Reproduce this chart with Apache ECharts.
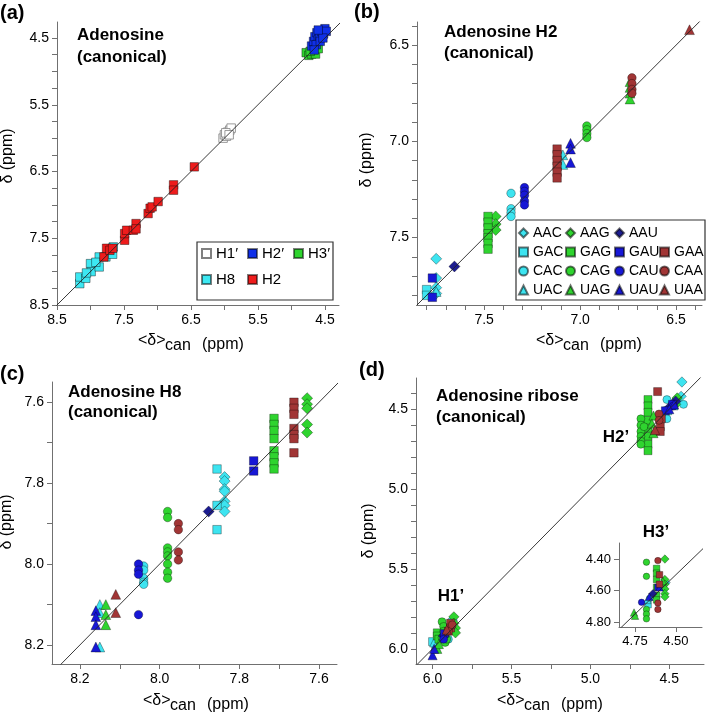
<!DOCTYPE html>
<html>
<head>
<meta charset="utf-8">
<script src="https://cdn.jsdelivr.net/npm/echarts@6/dist/echarts.min.js"></script>
<style>
html, body { margin: 0; padding: 0; background: #fff; }
#chart { width: 708px; height: 714px; }
</style>
</head>
<body>
<div id="chart"></div>
<script>
const FONT = 'Liberation Sans, Arial, sans-serif'

// ---- (a) all adenosine protons: [<δ>can, δ] ----
const aH3p = [[4.78, 4.72], [4.74, 4.76], [4.70, 4.74], [4.66, 4.70], [4.64, 4.74], [4.60, 4.66], [4.72, 4.70]]
const aH2p = [[4.70, 4.62], [4.67, 4.55], [4.65, 4.48], [4.62, 4.42], [4.60, 4.52], [4.58, 4.46], [4.55, 4.40],
  [4.52, 4.44], [4.50, 4.36], [4.48, 4.40], [4.63, 4.60], [4.57, 4.55], [4.53, 4.50], [4.60, 4.38], [4.66, 4.68]]
const aH1p = [[6.02, 6.00], [6.00, 5.95], [5.97, 5.97], [5.95, 5.91], [5.92, 5.88], [5.90, 5.85], [5.98, 5.92], [5.93, 5.95]]
const aH8 = [[8.16, 8.18], [8.16, 8.08], [8.07, 8.10], [8.00, 7.88], [7.99, 8.00], [7.87, 7.93], [7.87, 7.78],
  [7.77, 7.78], [7.66, 7.63], [7.67, 7.74], [8.06, 8.02], [7.92, 7.86]]
const aH2 = [[7.80, 7.78], [7.76, 7.65], [7.71, 7.68], [7.67, 7.65], [7.49, 7.53], [7.49, 7.43], [7.46, 7.38],
  [7.36, 7.38], [7.32, 7.28], [7.32, 7.36], [7.14, 7.13], [7.11, 7.05], [7.08, 7.03], [6.99, 6.95],
  [6.76, 6.70], [6.76, 6.78], [6.45, 6.43]]

// ---- per-triplet panels: [triplet, <δ>can, [δ ...]] ----
const h2Rows = [
  ['AAC', 7.75, [7.61, 7.71, 7.76, 7.79]], ['GAC', 7.80, [7.77, 7.80]],
  ['CAC', 7.36, [7.27, 7.35, 7.37, 7.39]], ['UAC', 7.09, [7.07, 7.12]], ['UAC', 7.75, [7.78]],
  ['AAG', 7.44, [7.39, 7.43, 7.46]], ['GAG', 7.48, [7.39, 7.42, 7.45, 7.48, 7.50, 7.53, 7.56]],
  ['CAG', 6.965, [6.92, 6.94, 6.96, 6.98]], ['UAG', 6.74, [6.69, 6.72, 6.75, 6.78]],
  ['AAU', 7.655, [7.65]], ['GAU', 7.77, [7.71, 7.81]],
  ['CAU', 7.29, [7.24, 7.26, 7.28, 7.31, 7.33]], ['UAU', 7.05, [7.01, 7.04, 7.11]],
  ['GAA', 7.12, [7.04, 7.07, 7.10, 7.13, 7.16, 7.19]], ['CAA', 6.73, [6.67, 6.70, 6.73, 6.75]],
  ['UAA', 6.43, [6.42]]
]
const h8Rows = [
  ['AAC', 7.837, [7.785, 7.795, 7.815, 7.82, 7.845, 7.855, 7.87]], ['GAC', 7.856, [7.765, 7.855, 7.915]],
  ['CAC', 8.04, [8.005, 8.015, 8.035, 8.045, 8.05]], ['UAC', 8.15, [8.10, 8.12, 8.205]],
  ['AAG', 7.63, [7.59, 7.605, 7.615, 7.655, 7.675]], ['GAG', 7.713, [7.64, 7.655, 7.67, 7.69, 7.72, 7.735, 7.75, 7.765]],
  ['CAG', 7.98, [7.87, 7.885, 7.96, 7.97, 7.98, 8.00, 8.02, 8.035]], ['UAG', 8.135, [8.10, 8.125, 8.15]],
  ['AAU', 7.877, [7.87]], ['GAU', 7.764, [7.745, 7.77]],
  ['CAU', 8.053, [8.00, 8.015, 8.025, 8.125]], ['UAU', 8.16, [8.115, 8.13, 8.15, 8.205]],
  ['GAA', 7.663, [7.60, 7.615, 7.63, 7.665, 7.68, 7.69, 7.725]], ['CAA', 7.953, [7.90, 7.915, 7.97, 7.99]],
  ['UAA', 8.11, [8.075, 8.12]]
]
const riboseRows = [
  // H2'
  ['AAC', 4.42, [4.33]], ['AAC', 4.425, [4.42]], ['AAC', 4.45, [4.45]],
  ['GAC', 4.51, [4.51]], ['GAC', 4.47, [4.48]],
  ['CAC', 4.515, [4.44, 4.56]], ['CAC', 4.41, [4.47]], ['UAC', 4.48, [4.46]],
  ['AAG', 4.45, [4.43]], ['AAG', 4.46, [4.47]],
  ['GAG', 4.635, [4.44, 4.48, 4.52, 4.57, 4.62, 4.67, 4.72, 4.76]],
  ['CAG', 4.68, [4.56, 4.60, 4.64, 4.67, 4.70, 4.72]], ['CAG', 4.66, [4.61]],
  ['UAG', 4.60, [4.54, 4.65]], ['UAG', 4.61, [4.59]],
  ['AAU', 4.50, [4.49]], ['AAU', 4.46, [4.45]], ['GAU', 4.525, [4.51]], ['GAU', 4.48, [4.47]],
  ['CAU', 4.473, [4.48]], ['UAU', 4.47, [4.47]], ['UAU', 4.50, [4.50]],
  ['GAA', 4.574, [4.39]], ['GAA', 4.55, [4.56]], ['GAA', 4.557, [4.61, 4.64]],
  ['CAA', 4.565, [4.53, 4.57]], ['UAA', 4.59, [4.63]],
  // H1'
  ['AAC', 5.875, [5.82]], ['GAC', 6.00, [5.955]], ['GAC', 5.98, [5.99]],
  ['CAC', 5.90, [5.94]], ['UAC', 5.99, [5.96]],
  ['AAG', 5.865, [5.80, 5.84]], ['AAG', 5.855, [5.87, 5.90]],
  ['GAG', 5.97, [5.90, 5.92]], ['GAG', 5.96, [5.94]],
  ['CAG', 5.94, [5.83, 5.93]], ['CAG', 5.93, [5.86, 5.89]], ['CAG', 5.92, [5.96]], ['CAG', 5.91, [5.94]],
  ['UAG', 5.97, [6.00]], ['UAG', 5.96, [5.97]],
  ['AAU', 5.93, [5.92]], ['GAU', 5.925, [5.905]], ['CAU', 5.93, [5.94]],
  ['UAU', 6.00, [6.04]], ['UAU', 5.99, [6.00]],
  ['GAA', 5.886, [5.84, 5.87]], ['GAA', 5.90, [5.89]], ['CAA', 5.875, [5.85]], ['UAA', 5.91, [5.88]]
]
const h3pRows = [
  ['AAC', 4.56, [4.55]], ['GAC', 4.67, [4.69]], ['CAC', 4.66, [4.65]], ['UAC', 4.675, [4.66]],
  ['AAG', 4.567, [4.40, 4.53, 4.56, 4.59, 4.62, 4.64]],
  ['GAG', 4.618, [4.46, 4.49, 4.53, 4.58, 4.63, 4.66]],
  ['CAG', 4.68, [4.42, 4.51, 4.72, 4.75, 4.78]],
  ['UAG', 4.756, [4.74]], ['UAG', 4.75, [4.76]], ['UAG', 4.58, [4.54]],
  ['AAU', 4.64, [4.62]], ['GAU', 4.61, [4.58]], ['CAU', 4.71, [4.675]],
  ['UAU', 4.60, [4.58]], ['UAU', 4.663, [4.64]],
  ['GAA', 4.60, [4.50, 4.56]], ['CAA', 4.61, [4.41, 4.68, 4.72]]
]

// ---- axis ticks and labels ----
const aXTicks = [4.5, 5, 5.5, 6, 6.5, 7, 7.5, 8, 8.5]
const aYTicks = [4.5, 4.75, 5, 5.25, 5.5, 5.75, 6, 6.25, 6.5, 6.75, 7, 7.25, 7.5, 7.75, 8, 8.25, 8.5]
const aLabels = [4.5, 5.5, 6.5, 7.5, 8.5]
const bTicks = [6.4, 6.5, 6.6, 6.7, 6.8, 6.9, 7.0, 7.1, 7.2, 7.3, 7.4, 7.5, 7.6, 7.7, 7.8]
const bLabels = [6.5, 7.0, 7.5]
const cTicks = [7.6, 7.7, 7.8, 7.9, 8.0, 8.1, 8.2]
const cLabels = [7.6, 7.8, 8.0, 8.2]
const dXTicks = [4.5, 4.75, 5, 5.25, 5.5, 5.75, 6]
const dYTicks = [4.4, 4.5, 4.6, 4.7, 4.8, 4.9, 5.0, 5.1, 5.2, 5.3, 5.4, 5.5, 5.6, 5.7, 5.8, 5.9, 6.0]
const dLabels = [4.5, 5.0, 5.5, 6.0]
const insetXTicks = [4.5, 4.75]
const insetYTicks = [4.4, 4.6, 4.8]

const triplets = ['AAC', 'GAC', 'CAC', 'UAC', 'AAG', 'GAG', 'CAG', 'UAG', 'AAU', 'GAU', 'CAU', 'UAU', 'GAA', 'CAA', 'UAA']
const shapeOf = { A: 'diamond', G: 'rect', C: 'circle', U: 'triangle' }
const colorOf = { C: '#3de4f0', G: '#2fd42f', U: '#1717d6', A: '#a13535' }
const diag = [[4.0, 4.0], [8.6, 8.6]]

function tripletSeries(rows, gi, size) {
  return triplets.filter(t => rows.some(r => r[0] === t)).map(t => {
    const shape = shapeOf[t[0]]
    const k = shape === 'diamond' ? 1.3 : shape === 'triangle' ? 1.15 : 1
    return {
      type: 'scatter', name: t, xAxisIndex: gi, yAxisIndex: gi,
      symbol: shape, symbolSize: size * k,
      itemStyle: { color: t === 'AAU' ? '#1c1c90' : colorOf[t[2]], borderColor: 'rgba(0,0,0,0.55)', borderWidth: 0.6, opacity: 1 },
      data: rows.filter(r => r[0] === t).flatMap(r => r[2].map(y => [r[1], y]))
    }
  })
}

function squareSeries(name, data, color, border) {
  return {
    type: 'scatter', name, xAxisIndex: 0, yAxisIndex: 0, symbol: 'rect', symbolSize: 8.5,
    itemStyle: { color, borderColor: border, borderWidth: 0.8, opacity: 1 },
    data
  }
}

function diagSeries(gi) {
  return {
    type: 'line', xAxisIndex: gi, yAxisIndex: gi, data: diag, symbol: 'none', clip: true,
    silent: true, z: 5, lineStyle: { color: '#222', width: 0.9 }
  }
}

function axis(gi, min, max, ticks, labels, digits, fontSize) {
  return {
    type: 'value', gridIndex: gi, min, max, inverse: true,
    axisLine: { show: true, onZero: false, lineStyle: { color: '#707070', width: 1 } },
    axisTick: { show: true, inside: false, length: 5, customValues: ticks, lineStyle: { color: '#707070', width: 1 } },
    axisLabel: { customValues: labels, formatter: v => v.toFixed(digits), color: '#000', fontSize, fontFamily: FONT, margin: 8 },
    splitLine: { show: false }
  }
}

function text(str, x, y, size, bold, align, extra) {
  return Object.assign({
    type: 'text', x, y,
    style: { text: str, fill: '#000', font: (bold ? 'bold ' : '') + size + 'px ' + FONT, textAlign: align || 'left', textVerticalAlign: 'middle' }
  }, extra || {})
}

function xName(x0, y0) {
  return [
    text('<δ>', x0, y0 - 5, 16, false),
    text('can', x0 + 27, y0, 16, false),
    text('(ppm)', x0 + 64, y0 - 1, 16, false)
  ]
}

function yName(cx, cy) {
  return text('δ (ppm)', cx, cy, 16, false, 'center', { rotation: Math.PI / 2 })
}

function legendCol(names, left, top, gap, size, fontSize) {
  return {
    show: true, orient: 'vertical', left, top, padding: 0, itemGap: gap,
    itemWidth: size, itemHeight: size, selectedMode: false, data: names,
    textStyle: { color: '#000', fontSize, fontFamily: FONT, lineHeight: 14 }
  }
}

const chart = echarts.init(document.getElementById('chart'), null, { renderer: 'canvas' })

const option = {
  backgroundColor: '#fff',
  animation: false,
  grid: [
    { left: 57, top: 22, width: 282, height: 283, outerBoundsMode: 'none' },
    { left: 417, top: 22, width: 285, height: 283, outerBoundsMode: 'none' },
    { left: 52, top: 382, width: 285, height: 282, outerBoundsMode: 'none' },
    { left: 416, top: 378, width: 288, height: 286, outerBoundsMode: 'none' },
    { left: 619, top: 543, width: 83, height: 84, outerBoundsMode: 'none' }
  ],
  xAxis: [
    axis(0, 4.29, 8.5, aXTicks, aLabels, 1, 14),
    axis(1, 6.365, 7.85, bTicks, bLabels, 1, 14),
    axis(2, 7.555, 8.27, cTicks, cLabels, 1, 14),
    axis(3, 4.28, 6.105, dXTicks, dLabels, 1, 14),
    axis(4, 4.34, 4.848, insetXTicks, insetXTicks, 2, 13)
  ],
  yAxis: [
    axis(0, 4.26, 8.5, aYTicks, aLabels, 1, 14),
    axis(1, 6.38, 7.85, bTicks, bLabels, 1, 14),
    axis(2, 7.55, 8.247, cTicks, cLabels, 1, 14),
    axis(3, 4.305, 6.095, dYTicks, dLabels, 1, 14),
    axis(4, 4.298, 4.832, insetYTicks, insetYTicks, 2, 13)
  ],
  legend: [
    legendCol(['H1′', 'H8'], 201, 246, 11, 9, 15),
    legendCol(['H2′', 'H2'], 247, 246, 11, 9, 15),
    legendCol(['H3′'], 293, 246, 11, 9, 15),
    legendCol(['AAC', 'GAC', 'CAC', 'UAC'], 518, 226, 5, 9, 14),
    legendCol(['AAG', 'GAG', 'CAG', 'UAG'], 565, 226, 5, 9, 14),
    legendCol(['AAU', 'GAU', 'CAU', 'UAU'], 614, 226, 5, 9, 14),
    legendCol(['GAA', 'CAA', 'UAA'], 659, 245, 5, 9, 14)
  ],
  series: [
    squareSeries('H1′', aH1p, '#ffffff', '#808080'),
    squareSeries('H3′', aH3p, '#2fd42f', 'rgba(0,0,0,0.5)'),
    squareSeries('H2′', aH2p, '#1030e8', 'rgba(0,0,0,0.5)'),
    squareSeries('H8', aH8, '#3de8f2', 'rgba(0,0,0,0.5)'),
    squareSeries('H2', aH2, '#ee1c1c', 'rgba(0,0,0,0.5)'),
    diagSeries(0),
    ...tripletSeries(h2Rows, 1, 8.5), diagSeries(1),
    ...tripletSeries(h8Rows, 2, 8.5), diagSeries(2),
    ...tripletSeries(riboseRows, 3, 8), diagSeries(3),
    ...tripletSeries(h3pRows, 4, 6.5), diagSeries(4)
  ],
  graphic: [
    { type: 'rect', shape: { x: 197, y: 242, width: 136, height: 58 }, style: { fill: 'none', stroke: '#333', lineWidth: 1.2 }, z: 1 },
    { type: 'rect', shape: { x: 516, y: 220, width: 189, height: 80 }, style: { fill: 'none', stroke: '#333', lineWidth: 1.2 }, z: 1 },
    text('(a)', 0, 13, 20, true),
    text('(b)', 354, 12, 20, true),
    text('(c)', 0, 374, 20, true),
    text('(d)', 359, 370, 20, true),
    text('Adenosine', 77, 35, 17, true),
    text('(canonical)', 77, 57, 17, true),
    text('Adenosine H2', 444, 32, 17, true),
    text('(canonical)', 444, 53, 17, true),
    text('Adenosine H8', 68, 392, 17, true),
    text('(canonical)', 68, 412, 17, true),
    text('Adenosine ribose', 436, 396, 17, true),
    text('(canonical)', 436, 417, 17, true),
    text('H2’', 616, 437, 17, true, 'center'),
    text('H1’', 451, 596, 17, true, 'center'),
    text('H3’', 656, 532, 17, true, 'center'),
    ...xName(138, 346), ...xName(536, 346), ...xName(143, 706), ...xName(497, 706),
    yName(8, 156), yName(367, 160), yName(7, 522), yName(369, 531)
  ]
}

chart.setOption(option)
</script>
</body>
</html>
